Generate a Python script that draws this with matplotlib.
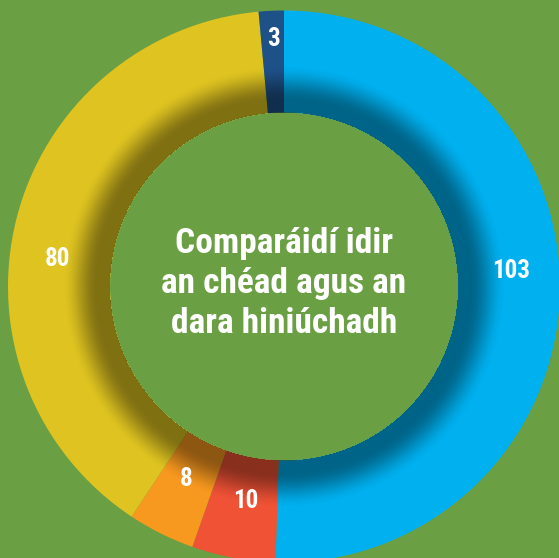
import numpy as np
import matplotlib
matplotlib.use('Agg')
from matplotlib import pyplot as plt

# donut data (clockwise from top)
labels = ['103', '10', '8', '80', '3']
values = [103, 10, 8, 80, 3]
colors = ['#00b0ef', '#ef5235', '#f7981f', '#dfc421', '#1f5189']
title = 'Comparáidí idir\nan chéad agus an\ndara hiniúchadh'

# where each value label sits: angle clockwise from top (deg), radius (px)
label_ang = [86, 190, 207, 277, 357.5]
label_rad = [228, 218, 216, 228, 248]

bg = '#6b9f43'
W, H = 559, 558
cx, cy = 284, 271.5      # centre, y measured from bottom
R, r_in = 276, 174

fig = plt.figure(figsize=(W / 100, H / 100), dpi=100, facecolor=bg)
ax = fig.add_axes([0, 0, 1, 1])
ax.set_facecolor(bg)

ax.pie(values, colors=colors, startangle=90, counterclock=False,
       radius=R, center=(cx, cy), frame=True,
       wedgeprops=dict(width=R - r_in, linewidth=0))

# inner shadow on the ring
yy, xx = np.mgrid[0:H, 0:W]
rr = np.hypot(xx + 0.5 - cx, (H - yy - 0.5) - cy)
t = np.clip((222 - rr) / (222 - 186), 0, 1)
a = 0.43 * t * t * (3 - 2 * t)
a[(rr < r_in) | (rr > R)] = 0
shade = np.zeros((H, W, 4))
shade[..., 3] = a
ax.imshow(shade, extent=(0, W, 0, H), zorder=3, interpolation='bilinear')

font = ['Roboto Condensed', 'DejaVu Sans']
for lab, ang, rl in zip(labels, label_ang, label_rad):
    th = np.deg2rad(ang)
    ax.text(cx + rl * np.sin(th), cy + rl * np.cos(th), lab,
            ha='center', va='center', color='white', fontsize=18,
            fontweight='bold', family=font, zorder=5)

ax.text(cx, cy + 3, title, ha='center', va='center', color='white',
        fontsize=25.5, fontweight='bold', family=font, linespacing=1.27,
        zorder=5)

ax.set_xlim(0, W)
ax.set_ylim(0, H)
ax.set_aspect('equal')
ax.axis('off')
fig.savefig('out.png', dpi=100, facecolor=bg)
